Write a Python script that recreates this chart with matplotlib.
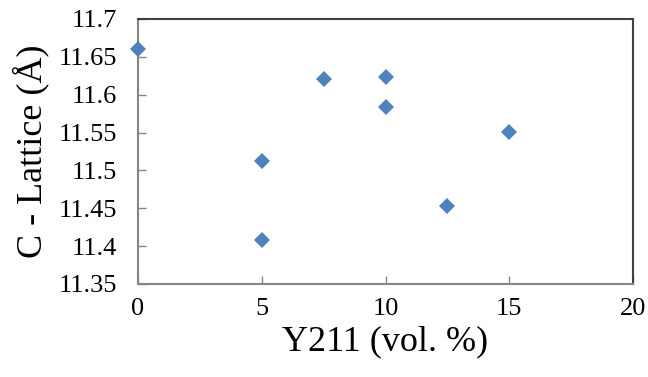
import matplotlib.pyplot as plt

# Y211 content vs c lattice parameter
y211 = [0, 5, 5, 7.5, 10, 10, 12.5, 15]
c_lattice = [11.660, 11.512, 11.408, 11.621, 11.624, 11.584, 11.453, 11.551]

x_ticks = [0, 5, 10, 15, 20]
y_ticks = [11.35, 11.4, 11.45, 11.5, 11.55, 11.6, 11.65, 11.7]
y_tick_labels = ['11.35', '11.4', '11.45', '11.5', '11.55', '11.6', '11.65', '11.7']

plt.rcParams['font.family'] = 'serif'
plt.rcParams['font.serif'] = ['Liberation Serif', 'DejaVu Serif']

fig = plt.figure(figsize=(6.48, 3.77), dpi=100)
ax = fig.add_axes([0.213, 0.2467, 0.764, 0.703])

ax.plot(y211, c_lattice, linestyle='none', marker='D', markersize=8,
        color='#4F81BD', markeredgewidth=0, clip_on=False, zorder=3)

ax.set_xlim(0, 20)
ax.set_ylim(11.35, 11.7)
ax.set_xticks(x_ticks)
ax.set_xticklabels([str(t) for t in x_ticks])
ax.set_yticks(y_ticks)
ax.set_yticklabels(y_tick_labels)

ax.tick_params(direction='in', length=6, width=1, color='#868686',
               labelsize=19, labelcolor='black')
ax.tick_params(axis='y', pad=15)
ax.tick_params(axis='x', pad=10)

for side in ['left', 'bottom']:
    ax.spines[side].set_color('#868686')
    ax.spines[side].set_linewidth(1.5)
for side in ['top', 'right']:
    ax.spines[side].set_color('#404040')
    ax.spines[side].set_linewidth(1.5)

ax.set_xlabel('Y211 (vol. %)', fontsize=26, labelpad=4)
ax.set_ylabel('C - Lattice (Å)', fontsize=26, labelpad=7)

fig.savefig('out.png', dpi=100)
